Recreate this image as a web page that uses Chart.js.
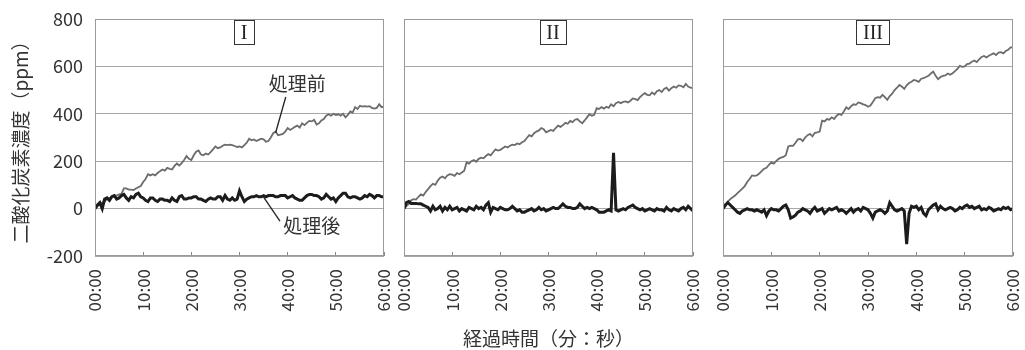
<!DOCTYPE html>
<html>
<head>
<meta charset="utf-8">
<script src="https://cdn.jsdelivr.net/npm/chart.js@4.4.1/dist/chart.umd.min.js"></script>
<style>
  body { margin: 0; background: #fff; }
  #wrap { position: relative; width: 1025px; height: 350px; }
  canvas { position: absolute; top: 0; }
</style>
</head>
<body>
<div id="wrap">
  <canvas id="c1" width="392" height="350" style="left:0px;width:392px;height:350px"></canvas>
  <canvas id="c2" width="305" height="350" style="left:396px;width:305px;height:350px"></canvas>
  <canvas id="c3" width="306" height="350" style="left:715px;width:306px;height:350px"></canvas>
</div>
<script>
// sampling every 30 s, 00:00 .. 60:00
const minutes = [];
for (let i = 0; i <= 120; i++) minutes.push(i / 2);

const xTicks = [0, 10, 20, 30, 40, 50, 60];
const xLabels = ['00:00', '10:00', '20:00', '30:00', '40:00', '50:00', '60:00'];
const yTicks = [-200, 0, 200, 400, 600, 800];

// I
const before1 = [
  0,10,20,25,30,40,45,50,55,55, 60,62,85,85,80,80,78,85,90,95,
  112,125,145,140,145,140,150,158,165,160, 172,168,165,180,190,182,192,205,222,210,
  205,225,240,245,228,225,232,228,238,250, 262,255,258,265,270,268,270,268,264,260,
  262,258,268,278,295,288,292,285,290,295, 292,282,285,300,318,325,310,312,315,325,
  340,332,338,345,350,342,360,352,362,370, 368,375,355,360,372,378,392,398,392,400,
  395,398,392,400,385,395,410,405,428,420, 434,430,432,430,432,425,422,425,440,428,
  430
];
const after1 = [
  0,15,25,0,40,45,35,50,55,40, 45,55,60,45,35,50,45,60,65,50,
  45,35,30,45,45,35,30,40,40,35, 35,30,45,35,30,50,55,40,40,45,
  45,50,50,40,40,35,30,40,45,40, 40,50,50,35,55,40,35,45,35,40,
  75,50,30,40,45,50,50,55,50,50, 55,50,55,55,55,50,50,55,55,55,
  45,50,55,45,40,35,35,45,55,60, 60,55,55,50,40,45,60,50,40,45,
  30,45,55,65,65,50,45,50,50,45, 40,45,55,50,60,55,45,55,55,50,
  50
];

// II
const before2 = [
  0,10,20,35,40,38,50,60,55,70, 82,95,105,100,118,130,135,128,140,145,
  143,138,150,145,152,160,195,190,200,205, 198,210,215,212,222,230,225,238,250,245,
  248,255,262,258,265,270,268,275,272,280, 285,298,310,305,318,325,330,340,335,322,
  327,332,328,340,350,345,352,362,358,370, 365,375,378,368,360,372,385,398,392,396,
  424,420,428,422,430,425,440,432,445,450, 445,450,452,448,455,465,462,458,470,480,
  487,480,478,490,482,495,500,492,505,510, 498,508,515,510,520,518,512,526,515,510,
  508
];
const after2 = [
  0,25,30,22,22,22,20,20,15,10, 5,-10,10,-5,0,10,-10,5,-5,10,
  -5,0,5,-10,0,-5,-10,5,0,-5, 10,0,5,-5,15,25,-15,5,0,-5,
  5,0,-5,-5,0,10,0,-10,-5,-15, -15,-10,-5,0,-10,-5,5,-5,0,-10,
  -5,0,5,0,0,10,20,10,5,5, 0,0,5,20,10,0,5,0,5,0,
  -5,-15,-15,-15,-10,-5,-10,235,-5,-10, -5,0,-5,5,10,15,5,0,-5,0,
  -10,-5,0,-5,-10,0,-5,-5,-10,5, -5,-10,0,-5,-10,0,5,-5,10,0,
  -10
];

// III
const before3 = [
  0,15,30,40,48,55,65,75,84,95, 112,125,140,138,140,148,158,168,172,185,
  195,190,200,210,215,218,225,262,266,265, 278,292,294,285,300,310,315,305,320,322,
  325,371,368,378,375,385,378,392,399,395, 410,427,420,432,440,438,448,445,440,437,
  430,435,450,466,470,468,480,470,459,475, 485,500,510,522,515,505,520,530,535,543,
  540,535,548,550,555,560,570,578,560,546, 555,560,562,570,565,571,580,590,602,598,
  600,610,612,620,625,618,630,640,644,638, 645,650,655,648,658,660,655,665,670,680,
  680
];
const after3 = [
  0,15,25,15,5,-5,-15,-20,-10,-5, 0,-5,-5,-10,-5,-10,-15,-5,-30,-10,
  0,-5,-5,-10,0,10,15,-5,-40,-35, -28,-15,-10,0,-5,-10,-20,-5,5,-10,
  -5,0,-20,-10,0,-5,0,5,-10,-5, -10,-20,-10,0,-15,-5,0,-10,5,0,
  -5,-20,-40,-15,-10,-5,-10,-20,-10,25, 10,-5,-10,-5,0,-10,-150,-20,10,5,
  10,-5,5,-20,-30,-5,5,15,20,-5, 10,0,-5,0,5,0,-10,-5,5,0,
  10,15,5,10,0,5,10,-5,0,-5, 5,0,-10,-5,0,-5,5,0,5,-5,
  0
];

Chart.defaults.font.family = '"Noto Sans CJK JP", sans-serif';
Chart.defaults.color = '#333';

const toPoints = arr => minutes.map((t, i) => ({ x: t, y: arr[i] }));

// frame, roman numeral box, call-out labels
const panelDecor = {
  id: 'panelDecor',
  afterDatasetsDraw(chart, args, opts) {
    const { ctx, chartArea: a, scales: { x, y } } = chart;
    ctx.save();
    ctx.strokeStyle = '#9a9a9a';
    ctx.lineWidth = 1;
    ctx.strokeRect(Math.round(a.left) + 0.5, Math.round(a.top) + 0.5,
      Math.round(a.right - a.left) - 1, Math.round(a.bottom - a.top) - 1);

    ctx.font = '20px "Liberation Serif", serif';
    const w = Math.round(ctx.measureText(opts.name).width + 13);
    const cx = Math.round(x.getPixelForValue(31));
    ctx.strokeStyle = '#333';
    ctx.strokeRect(cx - Math.round(w / 2) + 0.5, Math.round(a.top) + 1.5, w, 24);
    ctx.fillStyle = '#222';
    ctx.textAlign = 'center';
    ctx.textBaseline = 'middle';
    ctx.fillText(opts.name, cx, a.top + 14.5);

    (opts.notes || []).forEach(n => {
      ctx.strokeStyle = '#222';
      ctx.lineWidth = 1.3;
      ctx.beginPath();
      ctx.moveTo(x.getPixelForValue(n.from[0]), y.getPixelForValue(n.from[1]));
      ctx.lineTo(x.getPixelForValue(n.to[0]), y.getPixelForValue(n.to[1]));
      ctx.stroke();
      ctx.font = '19px "Noto Sans CJK JP", sans-serif';
      ctx.fillStyle = '#333';
      ctx.fillText(n.text, x.getPixelForValue(n.at[0]), y.getPixelForValue(n.at[1]));
    });
    ctx.restore();
  }
};

function makePanel(id, name, before, after, first, xTitle, notes) {
  new Chart(document.getElementById(id), {
    type: 'line',
    data: {
      datasets: [
        { label: '処理後', data: toPoints(after), borderColor: '#1c1c1c', borderWidth: 3,
          pointRadius: 0, tension: 0, order: 0 },
        { label: '処理前', data: toPoints(before), borderColor: '#6c6c6c', borderWidth: 1.8,
          pointRadius: 0, tension: 0, order: 1 }
      ]
    },
    options: {
      responsive: false,
      animation: false,
      layout: { padding: { top: 19, bottom: 0, left: first ? 0 : 8, right: 8 } },
      plugins: {
        legend: { display: false },
        tooltip: { enabled: false },
        panelDecor: { name: name, notes: notes }
      },
      scales: {
        x: {
          type: 'linear', min: 0, max: 60,
          afterBuildTicks: s => { s.ticks = xTicks.map(v => ({ value: v })); },
          afterFit: s => { s.height = 94; s.paddingLeft = 0; s.paddingRight = 0; },
          ticks: {
            minRotation: 90, maxRotation: 90, padding: 17, autoSkip: false,
            font: { size: 17 }, color: '#333',
            callback: (v, i) => xLabels[i]
          },
          grid: { drawOnChartArea: false, drawTicks: true, tickLength: -4, color: '#888' },
          border: { display: false },
          title: {
            display: !!xTitle, text: xTitle || '', color: '#333',
            font: { size: 19 }, padding: { top: 0, bottom: 0 }
          }
        },
        y: {
          min: -200, max: 800,
          afterBuildTicks: s => { s.ticks = yTicks.map(v => ({ value: v })); },
          afterFit: s => { s.width = first ? 95 : 0; s.paddingTop = 0; s.paddingBottom = 0; },
          ticks: { display: first, padding: 12, font: { size: 18 }, color: '#333' },
          grid: { color: '#a8a8a8', drawTicks: false },
          border: { display: false },
          title: {
            display: first, text: '二酸化炭素濃度（ppm）', color: '#333',
            font: { size: 19 }, padding: { top: 9, bottom: 0 }
          }
        }
      }
    },
    plugins: [panelDecor]
  });
}

makePanel('c1', 'I', before1, after1, true, null, [
  { text: '処理前', at: [42, 526], from: [39.6, 471], to: [37.5, 320] },
  { text: '処理後', at: [45, -72], from: [34.9, 52], to: [38.4, -53] }
]);
makePanel('c2', 'II', before2, after2, false, '経過時間（分：秒）', []);
makePanel('c3', 'III', before3, after3, false, null, []);
</script>
</body>
</html>
